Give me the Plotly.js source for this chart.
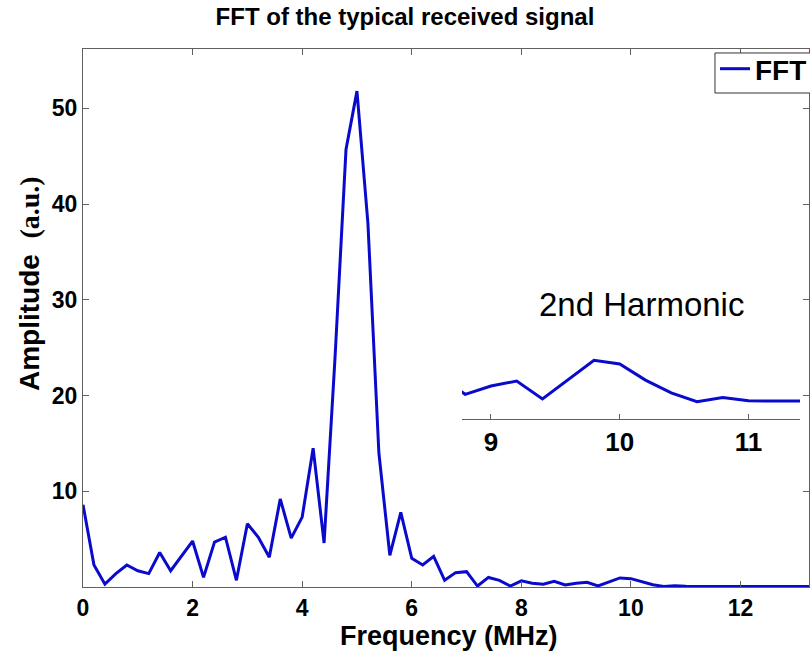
<!DOCTYPE html>
<html>
<head>
<meta charset="utf-8">
<script src="https://cdn.plot.ly/plotly-3.0.1.min.js"></script>
<style>html,body{margin:0;padding:0;background:#fff;}#chart{width:810px;height:655px;}</style>
</head>
<body>
<div id="chart"></div>
<script>
// Frequency (MHz)
const freq = [0,0.2,0.4,0.6,0.8,1.0,1.2,1.4,1.6,1.8,2.0,2.2,2.4,2.6,2.8,3.0,3.2,3.4,3.6,3.8,
  4.0,4.2,4.4,4.6,4.8,5.0,5.2,5.4,5.6,5.8,6.0,6.2,6.4,6.6,6.8,7.0,7.2,7.4,7.6,7.8,
  8.0,8.2,8.4,8.6,8.8,9.0,9.2,9.4,9.6,9.8,10.0,10.2,10.4,10.6,10.8,11.0,11.2,11.4,11.6,11.8,
  12.0,12.2,12.4,12.6,12.8,13.0,13.2,13.4];
// FFT amplitude (a.u.)
const amplitude = [8.6,2.3,0.3,1.4,2.3,1.7,1.4,3.6,1.7,3.3,4.8,1.0,4.7,5.2,0.7,6.6,5.2,3.1,9.2,5.1,
  7.3,14.5,4.6,24,45.7,51.8,38,14,3.3,7.8,3.0,2.3,3.2,0.7,1.5,1.6,0.1,1.0,0.7,0.1,
  0.65,0.4,0.3,0.6,0.21,0.39,0.5,0.11,0.52,0.95,0.87,0.52,0.24,0.05,0.14,0.07,0.065,0.055,0.05,0.05,
  0.05,0.05,0.05,0.05,0.05,0.05,0.05,0.05];
const xTicks = [0,2,4,6,8,10,12];
const yTicks = [10,20,30,40,50];
const insetTicks = [9,10,11];

const blue = 'rgb(10,10,205)';
const axisGray = '#606060';
const sans = 'Liberation Sans, Arial, sans-serif';

const traces = [
  {x: freq, y: amplitude, type: 'scatter', mode: 'lines', name: 'FFT',
   line: {color: blue, width: 3}, xaxis: 'x', yaxis: 'y'},
  {x: freq, y: amplitude, type: 'scatter', mode: 'lines', name: 'FFT inset', showlegend: false,
   line: {color: blue, width: 3}, xaxis: 'x2', yaxis: 'y2'}
];

const axisCommon = {showline: true, linecolor: axisGray, linewidth: 1, mirror: 'ticks',
  ticks: 'inside', ticklen: 6, tickcolor: axisGray, tickwidth: 1, showgrid: false, zeroline: false,
  tickfont: {family: sans, size: 23, color: '#000', weight: 'bold'}};

const layout = {
  width: 810, height: 655,
  margin: {l: 83, r: 1, t: 49, b: 68, autoexpand: false},
  paper_bgcolor: '#fff', plot_bgcolor: '#fff',
  title: {text: 'FFT of the typical received signal', xref: 'container', x: 0.5, xanchor: 'center',
    yref: 'container', y: 0.974, yanchor: 'middle',
    font: {family: sans, size: 24, color: '#000', weight: 'bold'}},
  xaxis: Object.assign({}, axisCommon, {domain: [0, 1], range: [0, 13.25], tickvals: xTicks, anchor: 'y'}),
  yaxis: Object.assign({}, axisCommon, {domain: [0, 1], range: [0, 56.2], tickvals: yTicks, anchor: 'x'}),
  xaxis2: {domain: [0.522, 0.9876], anchor: 'y2', range: [8.775, 11.4], tickvals: insetTicks,
    showline: true, linecolor: axisGray, linewidth: 1, ticks: 'inside', ticklen: 5, tickcolor: axisGray,
    showgrid: false, zeroline: false,
    tickfont: {family: sans, size: 26, color: '#000', weight: 'bold'}},
  yaxis2: {domain: [0.3123, 0.4777], anchor: 'x2', range: [-0.326, 1.609], visible: false,
    showgrid: false, zeroline: false},
  showlegend: true,
  legend: {x: 0.8705, y: 1.0093, xanchor: 'left', yanchor: 'top', bgcolor: 'rgba(0,0,0,0)',
    borderwidth: 0, entrywidth: 130, entrywidthmode: 'pixels',
    font: {family: sans, size: 28, color: '#000', weight: 'bold'}},
  shapes: [
    // legend frame (runs off the right edge, as in the reference)
    {type: 'rect', xref: 'paper', yref: 'paper', x0: 0.8705, x1: 1.05, y0: 0.9182, y1: 0.9926,
     line: {color: '#333', width: 1}, fillcolor: '#fff', layer: 'above'}
  ],
  annotations: [
    {text: 'Frequency (MHz)', xref: 'paper', yref: 'paper', x: 0.504, y: -0.092,
     xanchor: 'center', yanchor: 'middle', showarrow: false,
     font: {family: sans, size: 27, color: '#000', weight: 'bold'}},
    {text: 'Amplitude  <span style="font-family:Liberation Serif, serif">(a.u.)</span>',
     xref: 'paper', yref: 'paper', x: -0.0744, y: 0.565, textangle: -90,
     xanchor: 'center', yanchor: 'middle', showarrow: false,
     font: {family: sans, size: 28, color: '#000', weight: 'bold'}},
    {text: '2nd Harmonic', xref: 'paper', yref: 'paper', x: 0.7686, y: 0.5242,
     xanchor: 'center', yanchor: 'middle', showarrow: false,
     font: {family: sans, size: 33, color: '#000'}}
  ]
};

Plotly.newPlot('chart', traces, layout, {displayModeBar: false, staticPlot: true});
</script>
</body>
</html>
